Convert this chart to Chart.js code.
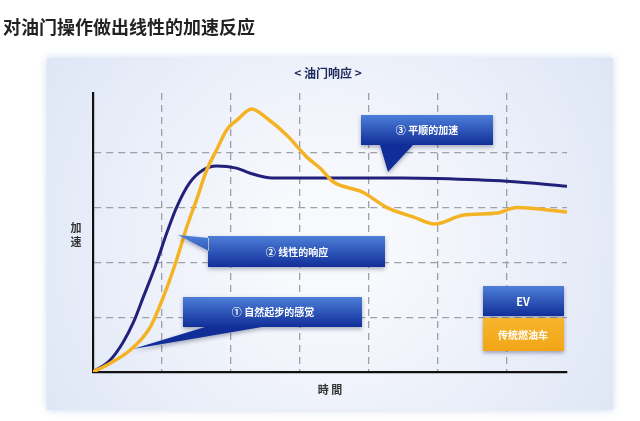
<!DOCTYPE html>
<html>
<head>
<meta charset="utf-8">
<title>油门响应</title>
<script src="https://cdn.jsdelivr.net/npm/chart.js"></script>
<style>
  body { margin: 0; background: #fff; font-family: "Noto Sans CJK SC", "Noto Sans", sans-serif; }
  #wrap { position: relative; width: 640px; height: 421px; overflow: hidden; }
  #wrap canvas { position: absolute; left: 0; top: 0; }
  .t { position: absolute; white-space: nowrap; line-height: 1; transform: translate(-50%, -50%); }
  .w { color: #fff; font-size: 10px; font-weight: bold; }
</style>
</head>
<body>
<div id="wrap">
  <canvas id="throttleChart" width="640" height="421"></canvas>
  <div style="position:absolute;left:3px;top:13px;font-size:18px;font-weight:bold;color:#222;">对油门操作做出线性的加速反应</div>
  <div class="t" style="left:328px;top:73px;font-size:12px;font-weight:bold;color:#1e2a5c;">&lt; 油门响应 &gt;</div>
  <div class="t" style="left:76px;top:234px;font-size:11px;font-weight:bold;color:#333;line-height:14px;text-align:center;">加<br>速</div>
  <div class="t" style="left:330px;top:389px;font-size:11px;font-weight:bold;color:#333;">時 間</div>
  <div class="t w" style="left:427px;top:130px;">③ 平顺的加速</div>
  <div class="t w" style="left:297px;top:252px;">② 线性的响应</div>
  <div class="t w" style="left:273px;top:312px;">① 自然起步的感觉</div>
  <div class="t w" style="left:523px;top:301px;font-size:11px;">EV</div>
  <div class="t w" style="left:523px;top:335px;">传统燃油车</div>
</div>
<script>
    // curves (x = time units, y = acceleration units)
    const evX  = [0, 0.25, 0.43, 0.58, 0.73, 0.92, 1.07, 1.21, 1.4, 1.6, 1.79, 2.08, 2.27, 2.6, 3.5, 4.5, 5.0, 6.0, 6.87];
    const evY  = [0, 0.22, 0.53, 0.89, 1.37, 1.99, 2.54, 3.0, 3.45, 3.69, 3.76, 3.72, 3.63, 3.54, 3.54, 3.54, 3.53, 3.48, 3.39];
    const iceX = [0, 0.25, 0.54, 0.83, 1.02, 1.21, 1.36, 1.5, 1.65, 1.79, 1.94, 2.09, 2.3, 2.52, 2.81, 3.1, 3.29, 3.48, 3.91, 4.26, 4.64, 4.95, 5.36, 5.86, 6.14, 6.87];
    const iceY = [0, 0.16, 0.4, 0.82, 1.37, 2.04, 2.65, 3.14, 3.69, 4.05, 4.42, 4.6, 4.8, 4.63, 4.32, 3.92, 3.72, 3.47, 3.28, 3.0, 2.83, 2.7, 2.86, 2.9, 3.0, 2.92];
    const xGrid = [1, 2, 3, 4, 5, 6];
    const yGrid = [1, 2, 3, 4];
    const seriesNames = ['EV', '传统燃油车'];

    const toPoints = (xs, ys) => xs.map((x, i) => ({ x: x, y: ys[i] }));

    // soft blue panel behind the chart
    const panel = {
        id: 'panel',
        beforeDraw(chart) {
            const ctx = chart.ctx;
            ctx.save();
            ctx.fillStyle = '#fff';
            ctx.fillRect(0, 0, 640, 421);
            const g = ctx.createRadialGradient(330, 240, 60, 330, 240, 380);
            g.addColorStop(0, '#f8f9fd');
            g.addColorStop(1, '#dae3f4');
            ctx.fillStyle = g;
            ctx.shadowColor = 'rgba(200,212,235,0.9)';
            ctx.shadowBlur = 8;
            ctx.fillRect(47, 58, 566, 352);
            ctx.restore();
        }
    };

    // blue callout boxes and the two legend boxes
    const callouts = {
        id: 'callouts',
        afterDatasetsDraw(chart) {
            const ctx = chart.ctx;
            const boxes = [
                { l: 361, t: 115, r: 493, b: 145, tri: [[380, 145], [388, 172], [413, 145]] },
                { l: 208, t: 236, r: 385, b: 267, tri: [[209, 238], [178, 235], [209, 251]] },
                { l: 183, t: 297, r: 362, b: 327, tri: [[205, 327], [133, 349], [262, 327]] },
                { l: 483, t: 286, r: 564, b: 316, tri: null }
            ];
            ctx.save();
            boxes.forEach(bx => {
                const g = ctx.createLinearGradient(0, bx.t, 0, bx.b);
                g.addColorStop(0, '#4d7fd9');
                g.addColorStop(1, '#112e98');
                ctx.fillStyle = g;
                ctx.shadowColor = 'rgba(10,20,60,0.35)';
                ctx.shadowBlur = 4;
                ctx.shadowOffsetY = 2;
                ctx.beginPath();
                ctx.rect(bx.l, bx.t, bx.r - bx.l, bx.b - bx.t);
                if (bx.tri) {
                    ctx.moveTo(bx.tri[0][0], bx.tri[0][1]);
                    ctx.lineTo(bx.tri[1][0], bx.tri[1][1]);
                    ctx.lineTo(bx.tri[2][0], bx.tri[2][1]);
                    ctx.closePath();
                }
                ctx.fill('nonzero');
            });
            const o = ctx.createLinearGradient(0, 318, 0, 351);
            o.addColorStop(0, '#f7b52c');
            o.addColorStop(1, '#f2a516');
            ctx.fillStyle = o;
            ctx.fillRect(483, 318, 81, 33);
            ctx.restore();
        }
    };

    new Chart(document.getElementById('throttleChart'), {
        type: 'line',
        data: {
            datasets: [{
                label: seriesNames[1],
                data: toPoints(iceX, iceY),
                borderColor: '#f4b324',
                borderWidth: 3.5,
                order: 0
            }, {
                label: seriesNames[0],
                data: toPoints(evX, evY),
                borderColor: '#21207a',
                borderWidth: 3,
                order: 1
            }]
        },
        options: {
            responsive: false,
            animation: false,
            events: [],
            elements: {
                point: { radius: 0 },
                line: { cubicInterpolationMode: 'monotone', borderCapStyle: 'round' }
            },
            layout: { padding: { left: 93, right: 73, top: 93, bottom: 49 } },
            plugins: {
                legend: { display: false },
                tooltip: { enabled: false }
            },
            scales: {
                x: {
                    type: 'linear',
                    min: 0,
                    max: 6.87,
                    ticks: { display: false, stepSize: 1 },
                    grid: {
                        drawTicks: false,
                        lineWidth: 1.3,
                        color: c => xGrid.includes(c.tick && c.tick.value) ? '#9e9fa8' : 'rgba(0,0,0,0)'
                    },
                    border: { display: true, color: '#111', width: 2.2, dash: [7, 5] }
                },
                y: {
                    min: 0,
                    max: 5.09,
                    ticks: { display: false, stepSize: 1 },
                    grid: {
                        drawTicks: false,
                        lineWidth: 1.3,
                        color: c => yGrid.includes(c.tick && c.tick.value) ? '#9e9fa8' : 'rgba(0,0,0,0)'
                    },
                    border: { display: true, color: '#111', width: 2.2, dash: [7, 5] }
                }
            }
        },
        plugins: [panel, callouts]
    });
</script>
</body>
</html>
